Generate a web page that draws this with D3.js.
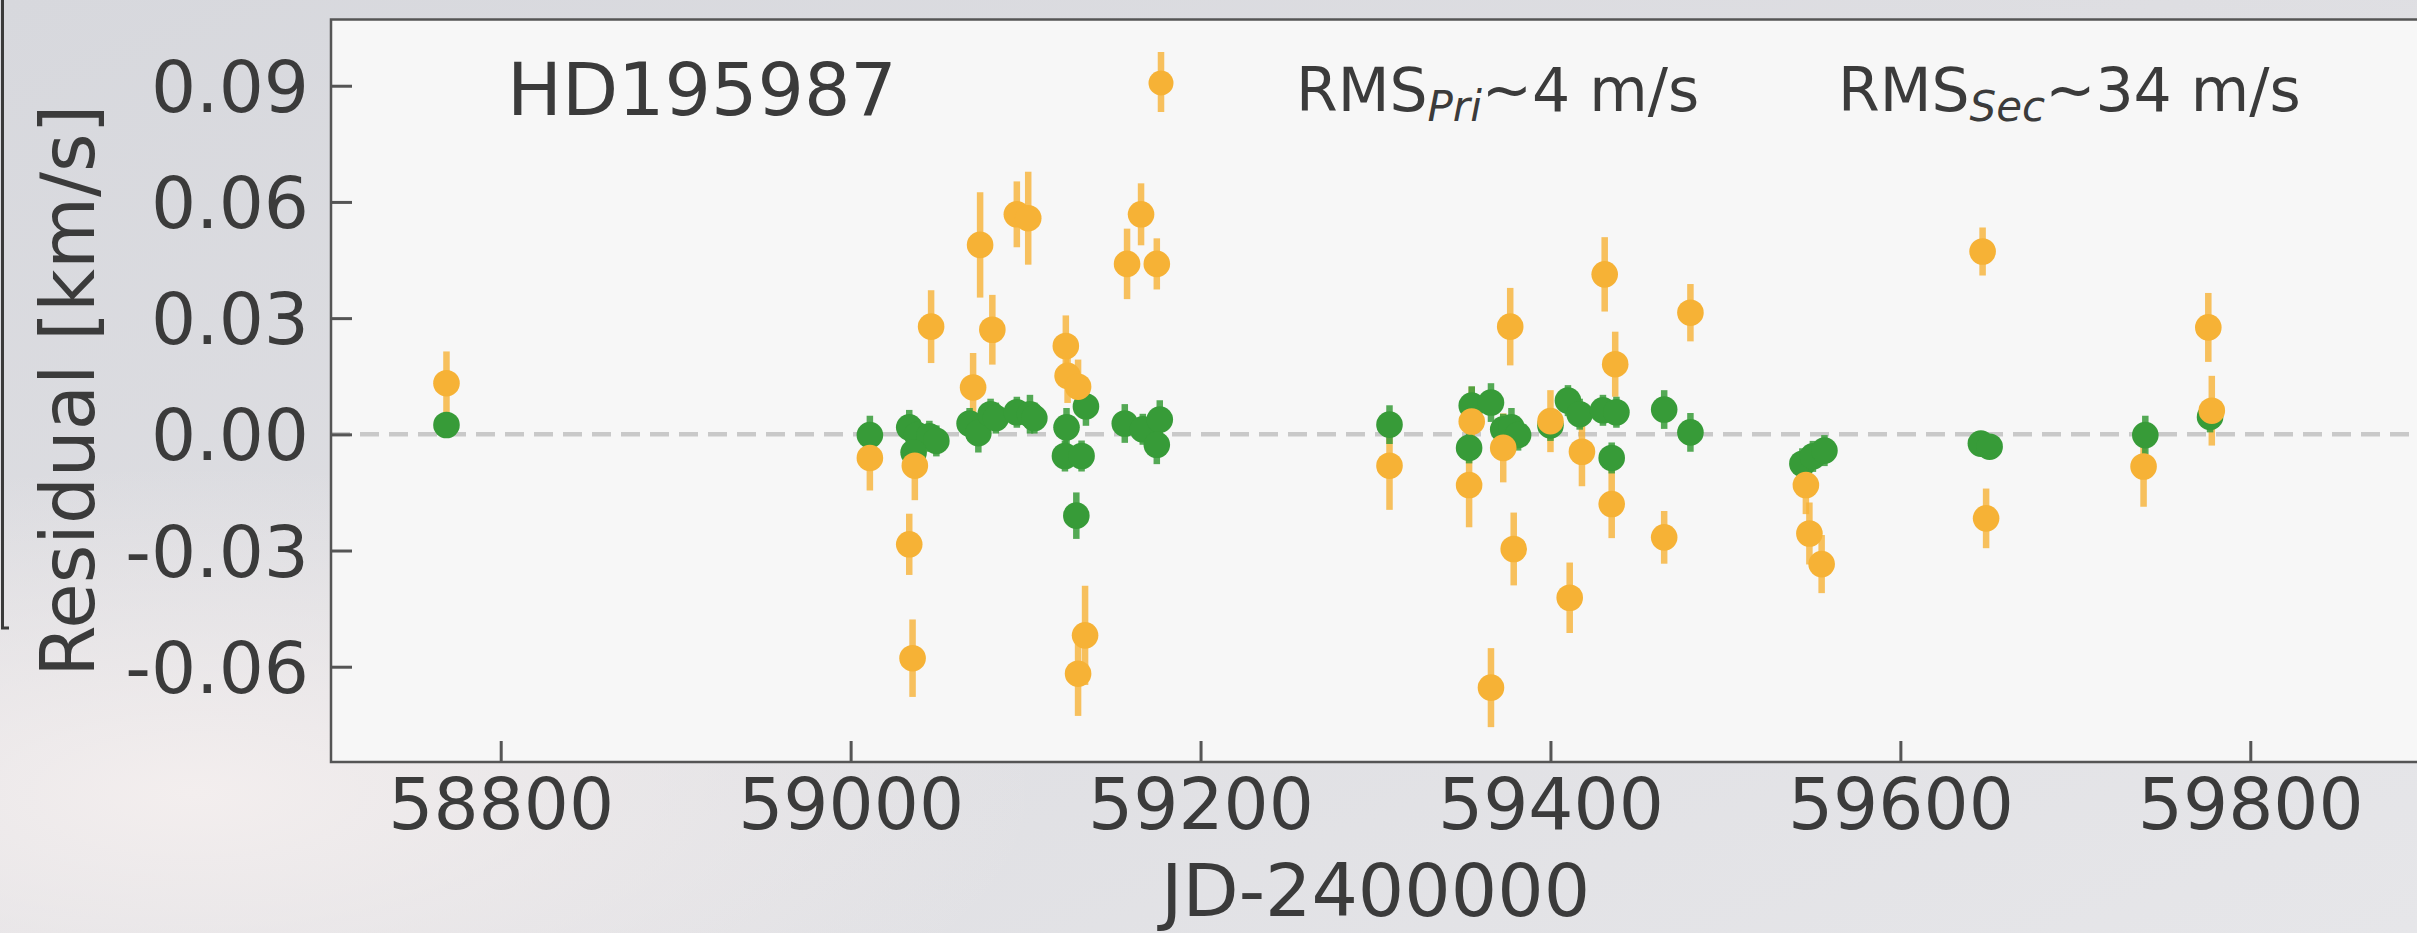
<!DOCTYPE html>
<html>
<head>
<meta charset="utf-8">
<script src="https://cdn.jsdelivr.net/npm/d3@7"></script>
<style>
  html, body { margin: 0; padding: 0; overflow: hidden; background: #dfdfe3; }
  svg { display: block; }
</style>
</head>
<body>
<svg id="chart" width="2417" height="933"></svg>
<script>
// ---- data -----------------------------------------------------------
const xTicks = [58800, 59000, 59200, 59400, 59600, 59800];
const yTicks = [-0.06, -0.03, 0.00, 0.03, 0.06, 0.09];

// primary component residuals (km/s)
const priJD = [58769, 59011, 59033.5, 59038, 59045, 59049, 59036, 59068, 59073, 59080,
  59083, 59095, 59102.5, 59105, 59123.4, 59122.5, 59132, 59129, 59134.5, 59156.7,
  59167, 59176.7, 59175, 59308, 59355, 59366, 59353.5, 59373, 59377.7, 59381.5,
  59400, 59410, 59416.7, 59430, 59437.7, 59435, 59465, 59480, 59544, 59550,
  59556.6, 59646, 59651, 59740, 59777];
const priRes = [0.0024, -0.0002, 0.0018, -0.0002, -0.0005, -0.0017, -0.0047, 0.0028, 0.0003, 0.0052,
  0.0042, 0.0057, 0.0052, 0.0042, 0.0018, -0.0056, -0.0056, -0.0210, 0.0072, 0.0028,
  0.0013, 0.0038, -0.0027, 0.0025, 0.0074, 0.0082, -0.0035, 0.0013, 0.0018, -0.0002,
  0.0023, 0.0087, 0.0052, 0.0062, 0.0057, -0.0061, 0.0064, 0.0005, -0.0076, -0.0057,
  -0.0042, -0.0024, -0.0032, -0.0002, 0.0045];
const priErr = [0.003, 0.005, 0.0045, 0.004, 0.004, 0.004, 0.004, 0.004, 0.005, 0.004,
  0.004, 0.004, 0.005, 0.004, 0.005, 0.004, 0.004, 0.006, 0.005, 0.005,
  0.004, 0.005, 0.005, 0.005, 0.005, 0.005, 0.004, 0.004, 0.005, 0.004,
  0.004, 0.004, 0.004, 0.004, 0.004, 0.004, 0.005, 0.005, 0.004, 0.004,
  0.004, 0.003, 0.003, 0.005, 0.004];

// secondary component residuals (km/s)
const secJD = [58769, 59011, 59033.5, 59035.4, 59036.7, 59046, 59070, 59074, 59081, 59095,
  59101.5, 59123, 59124, 59130, 59130, 59134, 59158, 59166, 59175, 59308,
  59353.5, 59355, 59366, 59373, 59377, 59379, 59400, 59411, 59418, 59431,
  59435, 59437, 59465, 59480, 59546, 59548, 59555, 59647, 59649, 59739,
  59776, 59778];
const secRes = [0.0132, -0.0061, -0.0284, -0.0578, -0.0081, 0.0278, 0.0121, 0.0489, 0.0270, 0.0568,
  0.0558, 0.0228, 0.0151, 0.0123, -0.0618, -0.0519, 0.0440, 0.0568, 0.0440, -0.0081,
  -0.0131, 0.0033, -0.0654, -0.0035, 0.0278, -0.0296, 0.0034, -0.0422, -0.0045, 0.0413,
  -0.0180, 0.0181, -0.0266, 0.0314, -0.0131, -0.0256, -0.0335, 0.0472, -0.0217, -0.0083,
  0.0276, 0.0061];
const secErr = [0.0082, 0.0084, 0.0079, 0.0100, 0.0089, 0.0094, 0.0089, 0.0136, 0.0090, 0.0085,
  0.0120, 0.0079, 0.0070, 0.0070, 0.0109, 0.0128, 0.0091, 0.0080, 0.0066, 0.0114,
  0.0109, 0.0090, 0.0102, 0.0089, 0.0100, 0.0094, 0.0080, 0.0091, 0.0089, 0.0096,
  0.0088, 0.0084, 0.0068, 0.0074, 0.0075, 0.0080, 0.0075, 0.0062, 0.0077, 0.0104,
  0.0089, 0.0090];

const starName = "HD195987";
const xLabel = "JD-2400000";
const yLabel = "Residual [km/s]";

// ---- styling --------------------------------------------------------
const FONT = "'DejaVu Sans', sans-serif";
const TEXT = "#3b3b3b";
const SPINE = "#555555";
const ORANGE = "#f6b236";
const GREEN = "#379b38";

const W = 2417, H = 933;
const plot = { left: 331, right: 2420, top: 19.5, bottom: 762 };

const svg = d3.select("#chart");
const defs = svg.append("defs");

// backdrop behind the axes
const bg = defs.append("linearGradient").attr("id", "bgGrad")
  .attr("x1", 0).attr("y1", 0).attr("x2", 1).attr("y2", 1);
bg.append("stop").attr("offset", 0).attr("stop-color", "#d7d8dd");
bg.append("stop").attr("offset", 0.45).attr("stop-color", "#dedee2");
bg.append("stop").attr("offset", 1).attr("stop-color", "#e6e6e9");
const pink = defs.append("radialGradient").attr("id", "pinkGlow")
  .attr("cx", 0.08).attr("cy", 0.85).attr("r", 0.35);
pink.append("stop").attr("offset", 0).attr("stop-color", "#f3eeee").attr("stop-opacity", 1);
pink.append("stop").attr("offset", 1).attr("stop-color", "#f3eeee").attr("stop-opacity", 0);

svg.append("rect").attr("width", W).attr("height", H).attr("fill", "url(#bgGrad)");
svg.append("rect").attr("width", W).attr("height", H).attr("fill", "url(#pinkGlow)");

// thin dark edge on the far left of the backdrop
svg.append("path").attr("d", "M2.5,0 V628 H9")
  .attr("fill", "none").attr("stroke", "#3a3a3a").attr("stroke-width", 3);

// plot panel
svg.append("rect")
  .attr("x", plot.left).attr("y", plot.top)
  .attr("width", plot.right - plot.left).attr("height", plot.bottom - plot.top)
  .attr("fill", "#f7f7f7");

// ---- scales ---------------------------------------------------------
const x = d3.scaleLinear().domain([58703, 59897]).range([plot.left, plot.right]);
const y = d3.scaleLinear().domain([-0.0846, 0.1071]).range([plot.bottom, plot.top]);

// zero reference line
svg.append("line")
  .attr("x1", plot.left).attr("x2", plot.right)
  .attr("y1", y(0)).attr("y2", y(0))
  .attr("stroke", "#c9c9c9").attr("stroke-width", 4.5)
  .attr("stroke-dasharray", "19 10");

// ---- data marks -----------------------------------------------------
const sec = secJD.map((d, i) => ({ jd: d, res: secRes[i], err: secErr[i] }));
const pri = priJD.map((d, i) => ({ jd: d, res: priRes[i], err: priErr[i] }));
const R = 13.3;

const gSecBars = svg.append("g");
gSecBars.selectAll("line").data(sec).join("line")
  .attr("x1", d => x(d.jd)).attr("x2", d => x(d.jd))
  .attr("y1", d => y(d.res + d.err)).attr("y2", d => y(d.res - d.err))
  .attr("stroke", ORANGE).attr("stroke-opacity", 0.8).attr("stroke-width", 6.5);

const gPri = svg.append("g");
gPri.selectAll("line").data(pri).join("line")
  .attr("x1", d => x(d.jd)).attr("x2", d => x(d.jd))
  .attr("y1", d => y(d.res + d.err)).attr("y2", d => y(d.res - d.err))
  .attr("stroke", GREEN).attr("stroke-opacity", 0.85).attr("stroke-width", 6.5);
gPri.selectAll("circle").data(pri).join("circle")
  .attr("cx", d => x(d.jd)).attr("cy", d => y(d.res)).attr("r", R)
  .attr("fill", GREEN);

const gSec = svg.append("g");
gSec.selectAll("circle").data(sec).join("circle")
  .attr("cx", d => x(d.jd)).attr("cy", d => y(d.res)).attr("r", R)
  .attr("fill", ORANGE);

// ---- axes -----------------------------------------------------------
const xAxis = svg.append("g").attr("transform", `translate(0,${plot.bottom})`)
  .call(d3.axisBottom(x).tickValues(xTicks).tickSize(-21).tickPadding(0)
    .tickFormat(d3.format("d")));
xAxis.select(".domain").remove();
xAxis.selectAll(".tick line").attr("stroke", SPINE).attr("stroke-width", 3);
xAxis.selectAll(".tick text")
  .attr("y", 67).attr("dy", 0)
  .attr("font-family", FONT).attr("font-size", 71).attr("fill", TEXT);

const yAxis = svg.append("g").attr("transform", `translate(${plot.left},0)`)
  .call(d3.axisLeft(y).tickValues(yTicks).tickSize(-21).tickPadding(0)
    .tickFormat(d => d3.format(".2f")(d).replace("−", "-")));
yAxis.select(".domain").remove();
yAxis.selectAll(".tick line").attr("stroke", SPINE).attr("stroke-width", 3);
yAxis.selectAll(".tick text")
  .attr("x", -22).attr("dy", "0.36em")
  .attr("font-family", FONT).attr("font-size", 71).attr("fill", TEXT);

// spines (right one falls outside the view)
svg.append("rect")
  .attr("x", plot.left).attr("y", plot.top)
  .attr("width", plot.right - plot.left).attr("height", plot.bottom - plot.top)
  .attr("fill", "none").attr("stroke", SPINE).attr("stroke-width", 2.5);

// axis titles
svg.append("text")
  .attr("x", (plot.left + plot.right) / 2).attr("y", 916)
  .attr("text-anchor", "middle")
  .attr("font-family", FONT).attr("font-size", 73).attr("fill", TEXT)
  .text(xLabel);

svg.append("text")
  .attr("transform", `translate(94,${(plot.top + plot.bottom) / 2}) rotate(-90)`)
  .attr("text-anchor", "middle")
  .attr("font-family", FONT).attr("font-size", 74).attr("fill", TEXT)
  .text(yLabel);

// star name
svg.append("text")
  .attr("x", 507).attr("y", 115)
  .attr("font-family", FONT).attr("font-size", 73).attr("fill", TEXT)
  .text(starName);

// ---- legend ---------------------------------------------------------
const leg = svg.append("g");
leg.append("line").attr("x1", 1161).attr("x2", 1161).attr("y1", 52).attr("y2", 112)
  .attr("stroke", ORANGE).attr("stroke-opacity", 0.8).attr("stroke-width", 6.5);
leg.append("circle").attr("cx", 1161).attr("cy", 83).attr("r", 12.5).attr("fill", ORANGE);

const legendEntries = [
  { x: 1296, main: "RMS", sub: "Pri", rest: "~4 m/s" },
  { x: 1838, main: "RMS", sub: "Sec", rest: "~34 m/s" }
];
legendEntries.forEach(e => {
  const t = leg.append("text")
    .attr("x", e.x).attr("y", 111)
    .attr("font-family", FONT).attr("font-size", 60).attr("fill", TEXT);
  t.append("tspan").text(e.main);
  t.append("tspan").attr("font-size", 42).attr("font-style", "italic")
    .attr("dy", 10).text(e.sub);
  t.append("tspan").attr("dy", -10).text(e.rest);
});
</script>
</body>
</html>
